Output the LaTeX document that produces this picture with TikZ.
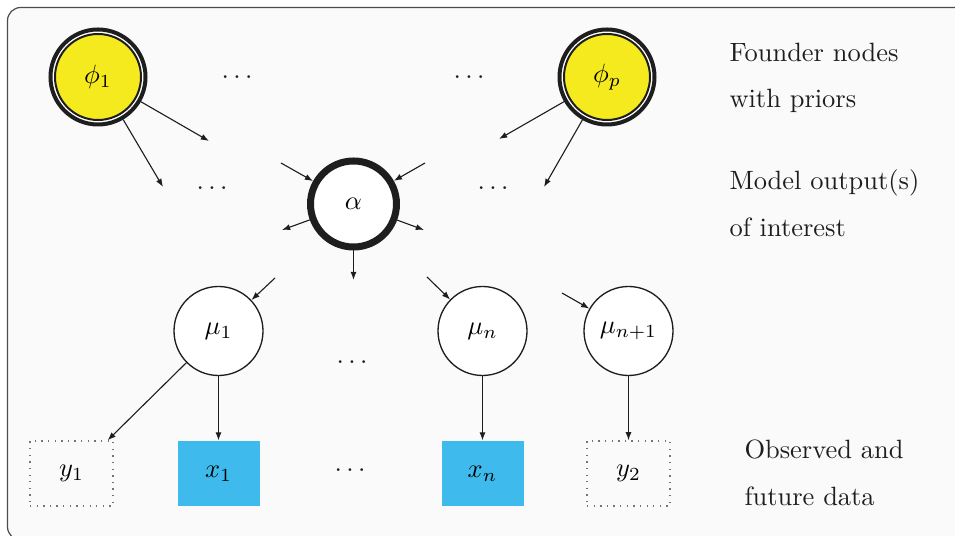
\documentclass[tikz,border=0pt]{standalone}
\usetikzlibrary{arrows.meta}
% one drawing unit
\def\upx{0.378pt}
\definecolor{founderfill}{RGB}{245,234,30}
\definecolor{obsfill}{RGB}{63,186,236}
\definecolor{framebg}{RGB}{250,250,250}
\definecolor{ink}{RGB}{30,30,30}
\tikzset{
  founder/.style={circle, inner sep=0pt, minimum size=95*\upx, line width=4*\upx,
    draw=ink, fill=white,
    path picture={\draw[ink, fill=founderfill, line width=2*\upx]
      (path picture bounding box.center) circle[radius=43*\upx];}},
  outnode/.style={circle, inner sep=0pt, minimum size=86*\upx, line width=7*\upx, draw=ink, fill=white},
  latent/.style={circle, inner sep=0pt, minimum size=89*\upx, line width=0.5pt, draw=ink, fill=white},
  obsbox/.style={rectangle, inner sep=0pt, minimum width=82*\upx, minimum height=65*\upx, fill=obsfill},
  futbox/.style={rectangle, inner sep=0pt, minimum width=83*\upx, minimum height=65*\upx,
    draw=black!55, dotted, line width=0.5pt},
  link/.style={-{Latex[length=3.1pt,width=2.3pt]}, draw=ink, line width=0.42pt},
  note/.style={anchor=base west, inner sep=0pt, text=ink},
  ell/.style={inner sep=0pt, text=ink}
}
\begin{document}
\begin{tikzpicture}[x=\upx, y=-\upx]
\useasboundingbox (0,0) rectangle (955,536);
% frame
\draw[draw=black!70, fill=framebg, line width=1.2*\upx, rounded corners=5pt]
  (7.5,7.5) rectangle (980,540);

% founder nodes
\node[founder] (phi1) at (98,77) {$\phi_1$};
\node[founder] (phip) at (607,77) {$\phi_p$};
\node[ell] (dA) at (237,77) {$\ldots$};
\node[ell] (dB) at (469,77) {$\ldots$};

% output of interest
\node[outnode] (alpha) at (353.5,204) {$\alpha$};
\node[ell] (dC) at (212,188) {$\ldots$};
\node[ell] (dD) at (493,188) {$\ldots$};

% intermediate nodes
\node[latent] (mu1) at (218.5,331) {$\mu_1$};
\node[latent] (mun) at (482.5,331) {$\mu_n$};
\node[latent] (mun1) at (628.5,331) {$\mu_{n+1}$};
\node[ell] (dE) at (352,362) {$\ldots$};

% data
\node[futbox] (y1) at (71.5,473.5) {$y_1$};
\node[obsbox] (x1) at (218.5,473.5) {$x_1$};
\node[ell] (dF) at (350,470) {$\ldots$};
\node[obsbox] (xn) at (482.5,473.5) {$x_n$};
\node[futbox] (y2) at (628.5,473.5) {$y_2$};

% free ends of the short arrows
\coordinate (p1a) at (209,141);
\coordinate (p1b) at (163,187);
\coordinate (ppa) at (499,139);
\coordinate (ppb) at (544,187);
\coordinate (ain1) at (281,163);
\coordinate (ain2) at (425,163);
\coordinate (aout1) at (282,230);
\coordinate (aout2) at (424,230);
\coordinate (aout3) at (353.5,280);
\coordinate (m1in) at (275,278);
\coordinate (mnin) at (427,277);
\coordinate (mn1in) at (562,293);

\draw[link] (phi1) -- (p1a);
\draw[link] (phi1) -- (p1b);
\draw[link] (phip) -- (ppa);
\draw[link] (phip) -- (ppb);
\draw[link] (ain1) -- (alpha);
\draw[link] (ain2) -- (alpha);
\draw[link] (alpha) -- (aout1);
\draw[link] (alpha) -- (aout2);
\draw[link] (alpha) -- (aout3);
\draw[link] (m1in) -- (mu1);
\draw[link] (mnin) -- (mun);
\draw[link] (mn1in) -- (mun1);
\draw[link] (mu1) -- ([xshift=-6*\upx]y1.north east);
\draw[link] (mu1) -- (x1);
\draw[link] (mun) -- (xn);
\draw[link] (mun1) -- (y2);

% legend text
\node[note] (t1) at (729,62) {Founder nodes};
\node[note] (t2) at (729,108) {with priors};
\node[note] (t3) at (729,190) {Model output(s)};
\node[note] (t4) at (729,237) {of interest};
\node[note] (t5) at (744,459) {Observed and};
\node[note] (t6) at (744,506) {future data};
\end{tikzpicture}
\end{document}
